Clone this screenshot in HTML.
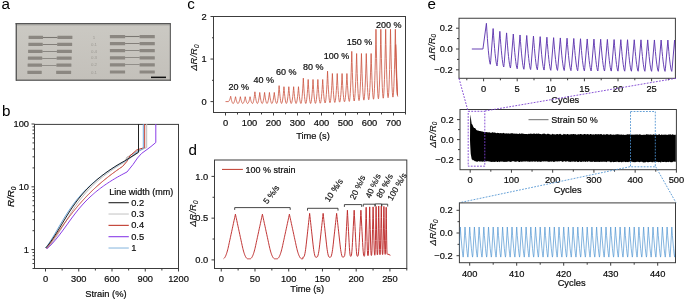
<!DOCTYPE html>
<html><head><meta charset="utf-8"><style>html,body{margin:0;padding:0;background:#fff;overflow:hidden}svg{display:block;will-change:transform;-webkit-font-smoothing:antialiased;font-family:"Liberation Sans",sans-serif}</style></head><body>
<svg width="685" height="300" viewBox="0 0 685 300" font-family="Liberation Sans, sans-serif">
<rect width="685" height="300" fill="#ffffff"/>
<text x="1.5" y="9" font-size="15.2" fill="#000">a</text>
<text x="1.9" y="116" font-size="15.2" fill="#000">b</text>
<text x="187.2" y="9.1" font-size="15.2" fill="#000">c</text>
<text x="188.6" y="155.3" font-size="15.2" fill="#000">d</text>
<text x="427.5" y="9.1" font-size="15.2" fill="#000">e</text>
<defs><linearGradient id="phg" x1="0" y1="0" x2="0" y2="1"><stop offset="0" stop-color="#cbc9c3"/><stop offset="1" stop-color="#c3c0ba"/></linearGradient></defs>
<rect x="16" y="23.5" width="154.5" height="57" fill="url(#phg)"/>
<rect x="15.6" y="23" width="155.2" height="1.4" fill="#565656"/>
<rect x="17" y="24.4" width="153" height="1.0" fill="#a3a29e"/>
<rect x="15.6" y="23" width="1.3" height="57.8" fill="#505050"/>
<rect x="169.8" y="23.5" width="1.1" height="57.3" fill="#5a5a5a"/>
<rect x="16" y="79.6" width="154.9" height="1.2" fill="#555555"/>
<rect x="28.6" y="35.8" width="14.4" height="3.2" rx="0.3" fill="#8b8781"/>
<rect x="57.4" y="35.8" width="15" height="3.2" rx="0.3" fill="#8b8781"/>
<rect x="109.9" y="35.1" width="15.2" height="3.2" rx="0.3" fill="#8b8781"/>
<rect x="139.6" y="35.1" width="15.2" height="3.2" rx="0.3" fill="#8b8781"/>
<line x1="43" y1="37.5" x2="57.4" y2="37.5" stroke="#7a7772" stroke-width="1.1"/>
<line x1="125.1" y1="36.5" x2="139.6" y2="36.5" stroke="#7a7772" stroke-width="1.1"/>
<rect x="28.35" y="42.8" width="14.4" height="3.2" rx="0.3" fill="#8b8781"/>
<rect x="57.15" y="42.8" width="15" height="3.2" rx="0.3" fill="#8b8781"/>
<rect x="109.9" y="42" width="15.2" height="3.2" rx="0.3" fill="#8b8781"/>
<rect x="139.6" y="42" width="15.2" height="3.2" rx="0.3" fill="#8b8781"/>
<line x1="42.75" y1="44.5" x2="57.15" y2="44.5" stroke="#7a7772" stroke-width="0.9"/>
<line x1="125.1" y1="43.5" x2="139.6" y2="43.5" stroke="#7a7772" stroke-width="0.9"/>
<rect x="28.1" y="49.8" width="14.4" height="3.2" rx="0.3" fill="#8b8781"/>
<rect x="56.9" y="49.8" width="15" height="3.2" rx="0.3" fill="#8b8781"/>
<rect x="109.9" y="49.1" width="15.2" height="3.2" rx="0.3" fill="#8b8781"/>
<rect x="139.6" y="49.1" width="15.2" height="3.2" rx="0.3" fill="#8b8781"/>
<line x1="42.5" y1="51.5" x2="56.9" y2="51.5" stroke="#7a7772" stroke-width="0.8"/>
<line x1="125.1" y1="50.5" x2="139.6" y2="50.5" stroke="#7a7772" stroke-width="0.8"/>
<rect x="27.85" y="56.6" width="14.4" height="3.2" rx="0.3" fill="#8b8781"/>
<rect x="56.65" y="56.6" width="15" height="3.2" rx="0.3" fill="#8b8781"/>
<rect x="109.9" y="56.3" width="15.2" height="3.2" rx="0.3" fill="#8b8781"/>
<rect x="139.6" y="56.3" width="15.2" height="3.2" rx="0.3" fill="#8b8781"/>
<line x1="42.25" y1="58.5" x2="56.65" y2="58.5" stroke="#7a7772" stroke-width="0.75"/>
<line x1="125.1" y1="57.5" x2="139.6" y2="57.5" stroke="#7a7772" stroke-width="0.75"/>
<rect x="27.6" y="63.6" width="14.4" height="3.2" rx="0.3" fill="#8b8781"/>
<rect x="56.4" y="63.6" width="15" height="3.2" rx="0.3" fill="#8b8781"/>
<rect x="109.9" y="63.3" width="15.2" height="3.2" rx="0.3" fill="#8b8781"/>
<rect x="139.6" y="63.3" width="15.2" height="3.2" rx="0.3" fill="#8b8781"/>
<line x1="42" y1="65.5" x2="56.4" y2="65.5" stroke="#7a7772" stroke-width="0.7"/>
<line x1="125.1" y1="64.5" x2="139.6" y2="64.5" stroke="#7a7772" stroke-width="0.7"/>
<rect x="27.35" y="70.7" width="14.4" height="3.2" rx="0.3" fill="#8b8781"/>
<rect x="56.15" y="70.7" width="15" height="3.2" rx="0.3" fill="#8b8781"/>
<rect x="109.9" y="70.4" width="15.2" height="3.2" rx="0.3" fill="#8b8781"/>
<rect x="139.6" y="70.4" width="15.2" height="3.2" rx="0.3" fill="#8b8781"/>
<text x="94" y="38.6" font-size="4.4" text-anchor="middle" fill="#9c9993">1</text>
<text x="94" y="45.6" font-size="4.4" text-anchor="middle" fill="#9c9993">0.1</text>
<text x="94" y="52.6" font-size="4.4" text-anchor="middle" fill="#9c9993">0.4</text>
<text x="94" y="59.4" font-size="4.4" text-anchor="middle" fill="#9c9993">0.3</text>
<text x="94" y="66.4" font-size="4.4" text-anchor="middle" fill="#9c9993">0.2</text>
<text x="94" y="73.5" font-size="4.4" text-anchor="middle" fill="#9c9993">0.1</text>
<rect x="151" y="76.6" width="15" height="1.5" fill="#111"/>
<rect x="34.5" y="124.4" width="144" height="144.1" fill="none" stroke="#3c3c3c" stroke-width="1"/>
<line x1="31.5" y1="249.6" x2="34.5" y2="249.6" stroke="#3c3c3c" stroke-width="1" />
<line x1="31.5" y1="186.8" x2="34.5" y2="186.8" stroke="#3c3c3c" stroke-width="1" />
<line x1="31.5" y1="124" x2="34.5" y2="124" stroke="#3c3c3c" stroke-width="1" />
<line x1="32.5" y1="268.5" x2="34.5" y2="268.5" stroke="#3c3c3c" stroke-width="1" />
<line x1="32.5" y1="263.53" x2="34.5" y2="263.53" stroke="#3c3c3c" stroke-width="1" />
<line x1="32.5" y1="259.33" x2="34.5" y2="259.33" stroke="#3c3c3c" stroke-width="1" />
<line x1="32.5" y1="255.69" x2="34.5" y2="255.69" stroke="#3c3c3c" stroke-width="1" />
<line x1="32.5" y1="252.47" x2="34.5" y2="252.47" stroke="#3c3c3c" stroke-width="1" />
<line x1="32.5" y1="230.7" x2="34.5" y2="230.7" stroke="#3c3c3c" stroke-width="1" />
<line x1="32.5" y1="219.64" x2="34.5" y2="219.64" stroke="#3c3c3c" stroke-width="1" />
<line x1="32.5" y1="211.79" x2="34.5" y2="211.79" stroke="#3c3c3c" stroke-width="1" />
<line x1="32.5" y1="205.7" x2="34.5" y2="205.7" stroke="#3c3c3c" stroke-width="1" />
<line x1="32.5" y1="200.73" x2="34.5" y2="200.73" stroke="#3c3c3c" stroke-width="1" />
<line x1="32.5" y1="196.53" x2="34.5" y2="196.53" stroke="#3c3c3c" stroke-width="1" />
<line x1="32.5" y1="192.89" x2="34.5" y2="192.89" stroke="#3c3c3c" stroke-width="1" />
<line x1="32.5" y1="189.67" x2="34.5" y2="189.67" stroke="#3c3c3c" stroke-width="1" />
<line x1="32.5" y1="167.9" x2="34.5" y2="167.9" stroke="#3c3c3c" stroke-width="1" />
<line x1="32.5" y1="156.84" x2="34.5" y2="156.84" stroke="#3c3c3c" stroke-width="1" />
<line x1="32.5" y1="148.99" x2="34.5" y2="148.99" stroke="#3c3c3c" stroke-width="1" />
<line x1="32.5" y1="142.9" x2="34.5" y2="142.9" stroke="#3c3c3c" stroke-width="1" />
<line x1="32.5" y1="137.93" x2="34.5" y2="137.93" stroke="#3c3c3c" stroke-width="1" />
<line x1="32.5" y1="133.73" x2="34.5" y2="133.73" stroke="#3c3c3c" stroke-width="1" />
<line x1="32.5" y1="130.09" x2="34.5" y2="130.09" stroke="#3c3c3c" stroke-width="1" />
<line x1="32.5" y1="126.87" x2="34.5" y2="126.87" stroke="#3c3c3c" stroke-width="1" />
<line x1="45.5" y1="268.5" x2="45.5" y2="271.5" stroke="#3c3c3c" stroke-width="1" />
<line x1="78.75" y1="268.5" x2="78.75" y2="271.5" stroke="#3c3c3c" stroke-width="1" />
<line x1="112.01" y1="268.5" x2="112.01" y2="271.5" stroke="#3c3c3c" stroke-width="1" />
<line x1="145.26" y1="268.5" x2="145.26" y2="271.5" stroke="#3c3c3c" stroke-width="1" />
<line x1="178.52" y1="268.5" x2="178.52" y2="271.5" stroke="#3c3c3c" stroke-width="1" />
<line x1="62.13" y1="268.5" x2="62.13" y2="270.5" stroke="#3c3c3c" stroke-width="1" />
<line x1="95.38" y1="268.5" x2="95.38" y2="270.5" stroke="#3c3c3c" stroke-width="1" />
<line x1="128.64" y1="268.5" x2="128.64" y2="270.5" stroke="#3c3c3c" stroke-width="1" />
<line x1="161.89" y1="268.5" x2="161.89" y2="270.5" stroke="#3c3c3c" stroke-width="1" />
<text x="29" y="252.7" font-size="9.3" text-anchor="end" fill="#0c0c0c" stroke="#0c0c0c" stroke-width="0.2" >1</text>
<text x="29" y="189.9" font-size="9.3" text-anchor="end" fill="#0c0c0c" stroke="#0c0c0c" stroke-width="0.2" >10</text>
<text x="29" y="127.1" font-size="9.3" text-anchor="end" fill="#0c0c0c" stroke="#0c0c0c" stroke-width="0.2" >100</text>
<text x="45.5" y="281.6" font-size="9.3" text-anchor="middle" fill="#0c0c0c" stroke="#0c0c0c" stroke-width="0.2" >0</text>
<text x="78.75" y="281.6" font-size="9.3" text-anchor="middle" fill="#0c0c0c" stroke="#0c0c0c" stroke-width="0.2" >300</text>
<text x="112.01" y="281.6" font-size="9.3" text-anchor="middle" fill="#0c0c0c" stroke="#0c0c0c" stroke-width="0.2" >600</text>
<text x="145.26" y="281.6" font-size="9.3" text-anchor="middle" fill="#0c0c0c" stroke="#0c0c0c" stroke-width="0.2" >900</text>
<text x="178.52" y="281.6" font-size="9.3" text-anchor="middle" fill="#0c0c0c" stroke="#0c0c0c" stroke-width="0.2" >1200</text>
<text x="105.9" y="296.6" font-size="9.3" text-anchor="middle" fill="#0c0c0c" stroke="#0c0c0c" stroke-width="0.2" >Strain (%)</text>
<text transform="translate(14.4,196.8) rotate(-90)" font-size="9.8" font-style="italic" text-anchor="middle" fill="#0c0c0c" stroke="#0c0c0c" stroke-width="0.2">R/R<tspan font-size="6.5" dy="1.6">0</tspan></text>
<path d="M47.85,248 L48.8,247 L49.63,246 L50.43,245 L51.19,244 L51.94,243 L52.67,242 L53.38,241 L54.08,240 L54.77,239 L55.44,238 L56.11,237 L56.76,236 L57.41,235 L58.05,234 L58.68,233 L59.31,232 L59.93,231 L60.54,230 L61.15,229 L61.76,228 L62.36,227 L62.96,226 L63.56,225 L64.16,224 L64.76,223 L65.36,222 L65.96,221 L66.56,220 L67.17,219 L67.77,218 L68.38,217 L69,216 L69.62,215 L70.24,214 L70.87,213 L71.5,212 L72.15,211 L72.8,210 L73.46,209 L74.12,208 L74.8,207 L75.49,206 L76.19,205 L76.9,204 L77.62,203 L78.35,202 L79.1,201 L79.86,200 L80.63,199 L81.42,198 L82.22,197 L83.05,196 L83.88,195 L84.74,194 L85.61,193 L86.5,192 L87.41,191 L88.34,190 L89.29,189 L90.26,188 L91.25,187 L92.27,186 L93.3,185 L94.36,184 L95.45,183 L96.56,182 L97.69,181 L98.85,180 L100.03,179 L101.24,178 L102.48,177 L103.75,176 L105.04,175 L106.37,174 L107.72,173 L109.1,172 L110.52,171 L111.96,170 L113.44,169 L114.95,168 L116.49,167 L118.07,166 L119.68,165 L121.38,164 L123.11,163 L124.88,162 L126.7,157.5 L138.3,150.5 L138.3,152.5 L127.5,160 L126.7,157.5 L136,152 L146.7,147.5 L146.7,124" fill="none" stroke="#bdbdbd" stroke-width="1" stroke-linejoin="round"/>
<path d="M46.57,248.5 L47.34,247.5 L48.13,246.5 L48.89,245.5 L49.62,244.5 L50.34,243.5 L51.05,242.5 L51.76,241.5 L52.46,240.5 L53.16,239.5 L53.85,238.5 L54.55,237.5 L55.24,236.5 L55.93,235.5 L56.62,234.5 L57.31,233.5 L58,232.5 L58.69,231.5 L59.39,230.5 L60.08,229.5 L60.78,228.5 L61.48,227.5 L62.19,226.5 L62.9,225.5 L63.61,224.5 L64.32,223.5 L65.04,222.5 L65.77,221.5 L66.5,220.5 L67.23,219.5 L67.97,218.5 L68.72,217.5 L69.48,216.5 L70.24,215.5 L71,214.5 L71.78,213.5 L72.56,212.5 L73.35,211.5 L74.15,210.5 L74.96,209.5 L75.78,208.5 L76.61,207.5 L77.45,206.5 L78.29,205.5 L79.15,204.5 L80.02,203.5 L80.9,202.5 L81.79,201.5 L82.69,200.5 L83.6,199.5 L84.53,198.5 L85.47,197.5 L86.42,196.5 L87.38,195.5 L88.36,194.5 L89.35,193.5 L90.36,192.5 L91.38,191.5 L92.42,190.5 L93.47,189.5 L94.53,188.5 L95.61,187.5 L96.71,186.5 L97.83,185.5 L98.96,184.5 L100.1,183.5 L101.27,182.5 L102.45,181.5 L103.65,180.5 L104.87,179.5 L106.1,178.5 L107.36,177.5 L108.63,176.5 L109.92,175.5 L111.23,174.5 L112.57,173.5 L113.92,172.5 L115.29,171.5 L116.68,170.5 L118.1,169.5 L119.54,168.5 L120.99,167.5 L122.47,166.5 L126.7,161.7 L130,155.8 L136.7,150 L144.7,147.5 L144.7,124" fill="none" stroke="#c0392b" stroke-width="1" stroke-linejoin="round"/>
<path d="M45.47,248 L46.33,247 L47.07,246 L47.78,245 L48.47,244 L49.14,243 L49.79,242 L50.44,241 L51.08,240 L51.7,239 L52.32,238 L52.93,237 L53.54,236 L54.14,235 L54.74,234 L55.33,233 L55.92,232 L56.5,231 L57.09,230 L57.67,229 L58.26,228 L58.84,227 L59.42,226 L60.01,225 L60.59,224 L61.18,223 L61.77,222 L62.37,221 L62.97,220 L63.57,219 L64.18,218 L64.79,217 L65.42,216 L66.04,215 L66.68,214 L67.32,213 L67.97,212 L68.63,211 L69.3,210 L69.98,209 L70.67,208 L71.37,207 L72.09,206 L72.81,205 L73.55,204 L74.3,203 L75.07,202 L75.84,201 L76.64,200 L77.45,199 L78.28,198 L79.12,197 L79.98,196 L80.86,195 L81.75,194 L82.67,193 L83.6,192 L84.55,191 L85.53,190 L86.52,189 L87.54,188 L88.57,187 L89.63,186 L90.72,185 L91.82,184 L92.95,183 L94.11,182 L95.29,181 L96.49,180 L97.73,179 L98.98,178 L100.27,177 L101.58,176 L102.92,175 L104.29,174 L105.69,173 L107.12,172 L108.58,171 L110.07,170 L111.59,169 L113.15,168 L114.73,167 L116.35,166 L118,165 L119.74,164 L121.51,163 L123.32,162 L125.16,161 L127.04,160 L136,153 L143.3,148.5 L143.3,124" fill="none" stroke="#6fa8da" stroke-width="1" stroke-linejoin="round"/>
<path d="M46.75,249 L47.57,248 L48.79,247 L49.84,246 L50.83,245 L51.79,244 L52.71,243 L53.61,242 L54.48,241 L55.34,240 L56.18,239 L57,238 L57.8,237 L58.59,236 L59.38,235 L60.14,234 L60.9,233 L61.65,232 L62.4,231 L63.13,230 L63.86,229 L64.59,228 L65.31,227 L66.03,226 L66.75,225 L67.47,224 L68.19,223 L68.9,222 L69.63,221 L70.35,220 L71.08,219 L71.81,218 L72.55,217 L73.3,216 L74.05,215 L74.82,214 L75.59,213 L76.37,212 L77.17,211 L77.98,210 L78.8,209 L79.63,208 L80.48,207 L81.35,206 L82.23,205 L83.14,204 L84.06,203 L85,202 L85.96,201 L86.94,200 L87.95,199 L88.98,198 L90.03,197 L91.11,196 L92.22,195 L93.35,194 L94.51,193 L95.7,192 L96.92,191 L98.17,190 L99.46,189 L100.77,188 L102.12,187 L103.5,186 L104.92,185 L106.37,184 L107.86,183 L109.39,182 L110.96,181 L112.57,180 L114.22,179 L115.91,178 L117.64,177 L119.41,176 L121.23,175 L123.1,174 L125.01,173 L126.97,172 L133,164.5 L137.5,158 L141.5,153.5 L147,149.5 L151,146.5 L155.8,142.5 L155.8,124" fill="none" stroke="#8a3ee8" stroke-width="1" stroke-linejoin="round"/>
<path d="M45.65,248 L46.6,247 L47.43,246 L48.23,245 L48.99,244 L49.74,243 L50.47,242 L51.18,241 L51.88,240 L52.57,239 L53.24,238 L53.91,237 L54.56,236 L55.21,235 L55.85,234 L56.48,233 L57.11,232 L57.73,231 L58.34,230 L58.95,229 L59.56,228 L60.16,227 L60.76,226 L61.36,225 L61.96,224 L62.56,223 L63.16,222 L63.76,221 L64.36,220 L64.97,219 L65.57,218 L66.18,217 L66.8,216 L67.42,215 L68.04,214 L68.67,213 L69.3,212 L69.95,211 L70.6,210 L71.26,209 L71.92,208 L72.6,207 L73.29,206 L73.99,205 L74.7,204 L75.42,203 L76.15,202 L76.9,201 L77.66,200 L78.43,199 L79.22,198 L80.02,197 L80.85,196 L81.68,195 L82.54,194 L83.41,193 L84.3,192 L85.21,191 L86.14,190 L87.09,189 L88.06,188 L89.05,187 L90.07,186 L91.1,185 L92.16,184 L93.25,183 L94.36,182 L95.49,181 L96.65,180 L97.83,179 L99.04,178 L100.28,177 L101.55,176 L102.84,175 L104.17,174 L105.52,173 L106.9,172 L108.32,171 L109.76,170 L111.24,169 L112.75,168 L114.29,167 L115.87,166 L117.48,165 L119.18,164 L120.91,163 L122.68,162 L124.49,161 L138.5,152.3 L138.5,124" fill="none" stroke="#222222" stroke-width="1" stroke-linejoin="round"/>
<text x="109.3" y="194.6" font-size="9.0" text-anchor="start" fill="#0c0c0c" stroke="#0c0c0c" stroke-width="0.2" >Line width (mm)</text>
<line x1="108.5" y1="202.7" x2="128.8" y2="202.7" stroke="#222222" stroke-width="1.1" />
<text x="131.2" y="205.8" font-size="9.3" text-anchor="start" fill="#0c0c0c" stroke="#0c0c0c" stroke-width="0.2" >0.2</text>
<line x1="108.5" y1="214.03" x2="128.8" y2="214.03" stroke="#c8c8c8" stroke-width="1.1" />
<text x="131.2" y="217.13" font-size="9.3" text-anchor="start" fill="#0c0c0c" stroke="#0c0c0c" stroke-width="0.2" >0.3</text>
<line x1="108.5" y1="225.36" x2="128.8" y2="225.36" stroke="#c0392b" stroke-width="1.1" />
<text x="131.2" y="228.46" font-size="9.3" text-anchor="start" fill="#0c0c0c" stroke="#0c0c0c" stroke-width="0.2" >0.4</text>
<line x1="108.5" y1="236.69" x2="128.8" y2="236.69" stroke="#8a3ee8" stroke-width="1.1" />
<text x="131.2" y="239.79" font-size="9.3" text-anchor="start" fill="#0c0c0c" stroke="#0c0c0c" stroke-width="0.2" >0.5</text>
<line x1="108.5" y1="248.02" x2="128.8" y2="248.02" stroke="#8fbbe0" stroke-width="1.1" />
<text x="131.2" y="251.12" font-size="9.3" text-anchor="start" fill="#0c0c0c" stroke="#0c0c0c" stroke-width="0.2" >1</text>
<rect x="213.5" y="16.5" width="192" height="96" fill="none" stroke="#3c3c3c" stroke-width="1"/>
<line x1="210.5" y1="101.6" x2="213.5" y2="101.6" stroke="#3c3c3c" stroke-width="1" />
<line x1="210.5" y1="59.05" x2="213.5" y2="59.05" stroke="#3c3c3c" stroke-width="1" />
<line x1="210.5" y1="16.5" x2="213.5" y2="16.5" stroke="#3c3c3c" stroke-width="1" />
<line x1="212" y1="80.32" x2="213.5" y2="80.32" stroke="#3c3c3c" stroke-width="1" />
<line x1="212" y1="37.77" x2="213.5" y2="37.77" stroke="#3c3c3c" stroke-width="1" />
<line x1="225.5" y1="112.5" x2="225.5" y2="115.5" stroke="#3c3c3c" stroke-width="1" />
<line x1="249.5" y1="112.5" x2="249.5" y2="115.5" stroke="#3c3c3c" stroke-width="1" />
<line x1="273.5" y1="112.5" x2="273.5" y2="115.5" stroke="#3c3c3c" stroke-width="1" />
<line x1="297.5" y1="112.5" x2="297.5" y2="115.5" stroke="#3c3c3c" stroke-width="1" />
<line x1="321.5" y1="112.5" x2="321.5" y2="115.5" stroke="#3c3c3c" stroke-width="1" />
<line x1="345.5" y1="112.5" x2="345.5" y2="115.5" stroke="#3c3c3c" stroke-width="1" />
<line x1="369.5" y1="112.5" x2="369.5" y2="115.5" stroke="#3c3c3c" stroke-width="1" />
<line x1="393.5" y1="112.5" x2="393.5" y2="115.5" stroke="#3c3c3c" stroke-width="1" />
<line x1="237.5" y1="112.5" x2="237.5" y2="114.5" stroke="#3c3c3c" stroke-width="1" />
<line x1="261.5" y1="112.5" x2="261.5" y2="114.5" stroke="#3c3c3c" stroke-width="1" />
<line x1="285.5" y1="112.5" x2="285.5" y2="114.5" stroke="#3c3c3c" stroke-width="1" />
<line x1="309.5" y1="112.5" x2="309.5" y2="114.5" stroke="#3c3c3c" stroke-width="1" />
<line x1="333.5" y1="112.5" x2="333.5" y2="114.5" stroke="#3c3c3c" stroke-width="1" />
<line x1="357.5" y1="112.5" x2="357.5" y2="114.5" stroke="#3c3c3c" stroke-width="1" />
<line x1="381.5" y1="112.5" x2="381.5" y2="114.5" stroke="#3c3c3c" stroke-width="1" />
<line x1="405.5" y1="112.5" x2="405.5" y2="114.5" stroke="#3c3c3c" stroke-width="1" />
<text x="206.6" y="104.7" font-size="9.3" text-anchor="end" fill="#0c0c0c" stroke="#0c0c0c" stroke-width="0.2" >0</text>
<text x="206.6" y="62.15" font-size="9.3" text-anchor="end" fill="#0c0c0c" stroke="#0c0c0c" stroke-width="0.2" >1</text>
<text x="206.6" y="19.6" font-size="9.3" text-anchor="end" fill="#0c0c0c" stroke="#0c0c0c" stroke-width="0.2" >2</text>
<text x="225.5" y="125.6" font-size="9.3" text-anchor="middle" fill="#0c0c0c" stroke="#0c0c0c" stroke-width="0.2" >0</text>
<text x="249.5" y="125.6" font-size="9.3" text-anchor="middle" fill="#0c0c0c" stroke="#0c0c0c" stroke-width="0.2" >100</text>
<text x="273.5" y="125.6" font-size="9.3" text-anchor="middle" fill="#0c0c0c" stroke="#0c0c0c" stroke-width="0.2" >200</text>
<text x="297.5" y="125.6" font-size="9.3" text-anchor="middle" fill="#0c0c0c" stroke="#0c0c0c" stroke-width="0.2" >300</text>
<text x="321.5" y="125.6" font-size="9.3" text-anchor="middle" fill="#0c0c0c" stroke="#0c0c0c" stroke-width="0.2" >400</text>
<text x="345.5" y="125.6" font-size="9.3" text-anchor="middle" fill="#0c0c0c" stroke="#0c0c0c" stroke-width="0.2" >500</text>
<text x="369.5" y="125.6" font-size="9.3" text-anchor="middle" fill="#0c0c0c" stroke="#0c0c0c" stroke-width="0.2" >600</text>
<text x="393.5" y="125.6" font-size="9.3" text-anchor="middle" fill="#0c0c0c" stroke="#0c0c0c" stroke-width="0.2" >700</text>
<text x="313" y="139.2" font-size="9.3" text-anchor="middle" fill="#0c0c0c" stroke="#0c0c0c" stroke-width="0.2" >Time (s)</text>
<text transform="translate(197,57.6) rotate(-90)" font-size="9.5" font-style="italic" text-anchor="middle" fill="#0c0c0c" stroke="#0c0c0c" stroke-width="0.1">ΔR/R<tspan font-size="6.46" dy="1.6">0</tspan></text>
<path d="M225.5,101.6 L228.26,101.6 L228.57,101.5 L228.87,101.22 L229.17,100.77 L229.47,100.17 L229.78,99.42 L230.08,98.52 L230.38,97.47 L230.68,96.28 L230.99,97.9 L231.29,99.33 L231.59,100.55 L231.89,101.58 L232.2,102.39 L232.5,103 L232.8,103.38 L233.11,103.51 L233.41,103.38 L233.71,103.03 L234.01,102.46 L234.32,101.69 L234.62,100.73 L234.92,99.57 L235.22,98.23 L235.53,96.71 L235.83,98.23 L236.13,99.57 L236.44,100.73 L236.74,101.69 L237.04,102.46 L237.34,103.03 L237.65,103.38 L237.95,103.51 L238.25,103.38 L238.55,103.03 L238.86,102.46 L239.16,101.69 L239.46,100.73 L239.76,99.57 L240.07,98.23 L240.37,96.71 L240.67,98.23 L240.98,99.57 L241.28,100.73 L241.58,101.69 L241.88,102.46 L242.19,103.03 L242.49,103.38 L242.79,103.51 L243.09,103.38 L243.4,103.03 L243.7,102.46 L244,101.69 L244.31,100.73 L244.61,99.57 L244.91,98.23 L245.21,96.71 L245.52,98.23 L245.82,99.57 L246.12,100.73 L246.42,101.69 L246.73,102.46 L247.03,103.03 L247.33,103.38 L247.64,103.51 L247.94,103.38 L248.24,103.03 L248.54,102.46 L248.85,101.69 L249.15,100.73 L249.45,99.57 L249.75,98.23 L250.06,96.71 L250.36,98.23 L250.66,99.57 L250.96,100.73 L251.27,101.69 L251.57,102.46 L251.87,103.03 L252.18,103.38 L252.48,103.51 L252.78,103.29 L253.08,102.67 L253.39,101.7 L253.69,100.38 L253.99,98.72 L254.29,96.74 L254.6,94.44 L254.9,91.81 L255.2,94.44 L255.51,96.74 L255.81,98.72 L256.11,100.38 L256.41,101.7 L256.72,102.67 L257.02,103.29 L257.32,103.51 L257.62,103.3 L257.93,102.72 L258.23,101.8 L258.53,100.55 L258.84,98.99 L259.14,97.11 L259.44,94.93 L259.74,92.45 L260.05,94.93 L260.35,97.11 L260.65,98.99 L260.95,100.55 L261.26,101.8 L261.56,102.72 L261.86,103.3 L262.16,103.51 L262.47,103.3 L262.77,102.72 L263.07,101.8 L263.38,100.55 L263.68,98.99 L263.98,97.11 L264.28,94.93 L264.59,92.45 L264.89,94.93 L265.19,97.11 L265.49,98.99 L265.8,100.55 L266.1,101.8 L266.4,102.72 L266.71,103.3 L267.01,103.51 L267.31,103.3 L267.61,102.72 L267.92,101.8 L268.22,100.55 L268.52,98.99 L268.82,97.11 L269.13,94.93 L269.43,92.45 L269.73,94.93 L270.03,97.11 L270.34,98.99 L270.64,100.55 L270.94,101.8 L271.25,102.72 L271.55,103.3 L271.85,103.51 L272.15,103.3 L272.46,102.72 L272.76,101.8 L273.06,100.55 L273.36,98.99 L273.67,97.11 L273.97,94.93 L274.27,92.45 L274.58,94.93 L274.88,97.11 L275.18,98.99 L275.48,100.55 L275.79,101.8 L276.09,102.72 L276.39,103.3 L276.69,103.51 L277,103.17 L277.3,102.23 L277.6,100.74 L277.91,98.73 L278.21,96.2 L278.51,93.17 L278.81,89.65 L279.12,85.64 L279.42,89.65 L279.72,93.17 L280.02,96.2 L280.33,98.73 L280.63,100.74 L280.93,102.23 L281.23,103.17 L281.54,103.51 L281.84,103.19 L282.14,102.31 L282.45,100.91 L282.75,99.01 L283.05,96.63 L283.35,93.78 L283.66,90.47 L283.96,86.71 L284.26,90.47 L284.56,93.78 L284.87,96.63 L285.17,99.01 L285.47,100.91 L285.78,102.31 L286.08,103.19 L286.38,103.51 L286.68,103.19 L286.99,102.31 L287.29,100.91 L287.59,99.01 L287.89,96.63 L288.2,93.78 L288.5,90.47 L288.8,86.71 L289.11,90.47 L289.41,93.78 L289.71,96.63 L290.01,99.01 L290.32,100.91 L290.62,102.31 L290.92,103.19 L291.22,103.51 L291.53,103.19 L291.83,102.31 L292.13,100.91 L292.43,99.01 L292.74,96.63 L293.04,93.78 L293.34,90.47 L293.65,86.71 L293.95,90.47 L294.25,93.78 L294.55,96.63 L294.86,99.01 L295.16,100.91 L295.46,102.31 L295.76,103.19 L296.07,103.51 L296.37,103.19 L296.67,102.31 L296.98,100.91 L297.28,99.01 L297.58,96.63 L297.88,93.78 L298.19,90.47 L298.49,86.71 L298.79,90.47 L299.09,93.78 L299.4,96.63 L299.7,99.01 L300,100.91 L300.31,102.31 L300.61,103.19 L300.91,103.51 L301.21,103.03 L301.52,101.7 L301.82,99.59 L302.12,96.73 L302.42,93.15 L302.73,88.86 L303.03,83.87 L303.33,78.2 L303.63,83.87 L303.94,88.86 L304.24,93.15 L304.54,96.73 L304.85,99.59 L305.15,101.7 L305.45,103.03 L305.75,103.51 L306.06,103.05 L306.36,101.79 L306.66,99.79 L306.96,97.07 L307.27,93.67 L307.57,89.6 L307.87,84.86 L308.18,79.47 L308.48,84.86 L308.78,89.6 L309.08,93.67 L309.39,97.07 L309.69,99.79 L309.99,101.79 L310.29,103.05 L310.6,103.51 L310.9,103.04 L311.2,101.77 L311.5,99.77 L311.81,97.05 L312.11,93.65 L312.41,89.58 L312.72,84.85 L313.02,79.47 L313.32,84.85 L313.62,89.57 L313.93,93.63 L314.23,97.01 L314.53,99.71 L314.83,101.69 L315.14,102.94 L315.44,103.39 L315.74,102.92 L316.05,101.66 L316.35,99.66 L316.65,96.96 L316.95,93.57 L317.26,89.52 L317.56,84.82 L317.86,79.47 L318.16,84.81 L318.47,89.5 L318.77,93.53 L319.07,96.89 L319.38,99.57 L319.68,101.54 L319.98,102.77 L320.28,103.22 L320.59,102.75 L320.89,101.49 L321.19,99.5 L321.49,96.82 L321.8,93.46 L322.1,89.44 L322.4,84.77 L322.7,79.47 L323.01,84.77 L323.31,89.42 L323.61,93.41 L323.92,96.74 L324.22,99.39 L324.52,101.34 L324.82,102.56 L325.13,103 L325.43,102.37 L325.73,100.68 L326.03,98.02 L326.34,94.43 L326.64,89.92 L326.94,84.54 L327.25,78.28 L327.55,71.18 L327.85,78.28 L328.15,84.51 L328.46,89.87 L328.76,94.33 L329.06,97.89 L329.36,100.5 L329.67,102.15 L329.97,102.74 L330.27,102.16 L330.57,100.61 L330.88,98.16 L331.18,94.86 L331.48,90.72 L331.79,85.78 L332.09,80.04 L332.39,73.52 L332.69,80.03 L333,85.75 L333.3,90.66 L333.6,94.75 L333.9,98.01 L334.21,100.4 L334.51,101.91 L334.81,102.45 L335.12,101.87 L335.42,100.33 L335.72,97.91 L336.02,94.64 L336.33,90.54 L336.63,85.65 L336.93,79.97 L337.23,73.52 L337.54,79.96 L337.84,85.62 L338.14,90.47 L338.45,94.52 L338.75,97.74 L339.05,100.11 L339.35,101.6 L339.66,102.13 L339.96,101.55 L340.26,100.03 L340.56,97.63 L340.87,94.4 L341.17,90.35 L341.47,85.51 L341.77,79.89 L342.08,73.52 L342.38,79.88 L342.68,85.47 L342.99,90.27 L343.29,94.27 L343.59,97.45 L343.89,99.79 L344.2,101.26 L344.5,101.78 L344.8,101.21 L345.1,99.71 L345.41,97.34 L345.71,94.14 L346.01,90.14 L346.32,85.36 L346.62,79.81 L346.92,73.52 L347.22,79.8 L347.53,85.32 L347.83,90.06 L348.13,94 L348.43,97.14 L348.74,99.45 L349.04,100.89 L349.34,101.4 L349.65,100.42 L349.95,97.77 L350.25,93.59 L350.55,87.93 L350.86,80.86 L351.16,72.39 L351.46,62.56 L351.76,51.39 L352.07,62.55 L352.37,72.35 L352.67,80.77 L352.97,87.79 L353.28,93.38 L353.58,97.49 L353.88,100.08 L354.19,101.01 L354.49,100.07 L354.79,97.55 L355.09,93.58 L355.4,88.21 L355.7,81.49 L356,73.45 L356.3,64.12 L356.61,53.52 L356.91,64.11 L357.21,73.41 L357.52,81.4 L357.82,88.06 L358.12,93.36 L358.42,97.26 L358.73,99.71 L359.03,100.59 L359.33,99.66 L359.63,97.16 L359.94,93.22 L360.24,87.9 L360.54,81.24 L360.85,73.27 L361.15,64.02 L361.45,53.52 L361.75,64.01 L362.06,73.23 L362.36,81.14 L362.66,87.74 L362.96,92.99 L363.27,96.86 L363.57,99.28 L363.87,100.15 L364.17,99.23 L364.48,96.75 L364.78,92.85 L365.08,87.57 L365.39,80.98 L365.69,73.08 L365.99,63.92 L366.29,53.52 L366.6,63.91 L366.9,73.03 L367.2,80.87 L367.5,87.41 L367.81,92.6 L368.11,96.43 L368.41,98.83 L368.72,99.69 L369.02,98.77 L369.32,96.32 L369.62,92.45 L369.93,87.23 L370.23,80.7 L370.53,72.89 L370.83,63.82 L371.14,53.52 L371.44,63.81 L371.74,72.84 L372.04,80.59 L372.35,87.06 L372.65,92.2 L372.95,95.99 L373.26,98.36 L373.56,99.21 L373.86,97.84 L374.16,94.13 L374.47,88.29 L374.77,80.38 L375.07,70.48 L375.37,58.64 L375.68,44.89 L375.98,29.27 L376.28,44.88 L376.59,58.59 L376.89,70.37 L377.19,80.2 L377.49,88.02 L377.8,93.79 L378.1,97.41 L378.4,98.72 L378.7,97.35 L379.01,93.67 L379.31,87.86 L379.61,80.01 L379.92,70.19 L380.22,58.43 L380.52,44.78 L380.82,29.27 L381.13,44.76 L381.43,58.38 L381.73,70.07 L382.03,79.83 L382.34,87.59 L382.64,93.31 L382.94,96.91 L383.24,98.2 L383.55,96.84 L383.85,93.19 L384.15,87.43 L384.46,79.63 L384.76,69.88 L385.06,58.21 L385.36,44.66 L385.67,29.27 L385.97,44.65 L386.27,58.15 L386.57,69.76 L386.88,79.44 L387.18,87.14 L387.48,92.82 L387.79,96.39 L388.09,97.67 L388.39,96.32 L388.69,92.7 L389,86.97 L389.3,79.24 L389.6,69.56 L389.9,57.98 L390.21,44.54 L390.51,29.27 L390.81,44.52 L391.12,57.93 L391.42,69.44 L391.72,79.04 L392.02,86.68 L392.33,92.31 L392.63,95.85 L392.93,97.12 L393.23,95.78 L393.54,92.18 L393.84,86.51 L394.14,78.84 L394.44,69.24 L394.75,57.75 L395.05,44.42 L395.35,29.27 L395.66,44.4 L395.96,57.69 L396.26,69.11 L396.56,78.63 L396.87,86.21 L397.17,91.79 L397.47,95.3 L395.66,44.4 L395.96,57.69 L396.26,69.11 L396.56,78.63 L396.87,86.21 L397.17,91.79 L397.47,95.3 L397.77,96.56" fill="none" stroke="#cb5541" stroke-width="0.82" stroke-linejoin="round"/>
<text x="228.4" y="90" font-size="9" text-anchor="start" fill="#0c0c0c" stroke="#0c0c0c" stroke-width="0.2" >20 %</text>
<text x="253.4" y="82.8" font-size="9" text-anchor="start" fill="#0c0c0c" stroke="#0c0c0c" stroke-width="0.2" >40 %</text>
<text x="275.9" y="75.3" font-size="9" text-anchor="start" fill="#0c0c0c" stroke="#0c0c0c" stroke-width="0.2" >60 %</text>
<text x="302.9" y="69.7" font-size="9" text-anchor="start" fill="#0c0c0c" stroke="#0c0c0c" stroke-width="0.2" >80 %</text>
<text x="323.7" y="59" font-size="9" text-anchor="start" fill="#0c0c0c" stroke="#0c0c0c" stroke-width="0.2" >100 %</text>
<text x="346.7" y="45" font-size="9" text-anchor="start" fill="#0c0c0c" stroke="#0c0c0c" stroke-width="0.2" >150 %</text>
<text x="376" y="28.3" font-size="9" text-anchor="start" fill="#0c0c0c" stroke="#0c0c0c" stroke-width="0.2" >200 %</text>
<rect x="214.5" y="160" width="192.3" height="108.5" fill="none" stroke="#3c3c3c" stroke-width="1"/>
<line x1="211.5" y1="259.9" x2="214.5" y2="259.9" stroke="#3c3c3c" stroke-width="1" />
<line x1="211.5" y1="218.15" x2="214.5" y2="218.15" stroke="#3c3c3c" stroke-width="1" />
<line x1="211.5" y1="176.4" x2="214.5" y2="176.4" stroke="#3c3c3c" stroke-width="1" />
<line x1="212.5" y1="239.02" x2="214.5" y2="239.02" stroke="#3c3c3c" stroke-width="1" />
<line x1="212.5" y1="197.27" x2="214.5" y2="197.27" stroke="#3c3c3c" stroke-width="1" />
<line x1="221.25" y1="268.5" x2="221.25" y2="271.5" stroke="#3c3c3c" stroke-width="1" />
<line x1="254.99" y1="268.5" x2="254.99" y2="271.5" stroke="#3c3c3c" stroke-width="1" />
<line x1="288.72" y1="268.5" x2="288.72" y2="271.5" stroke="#3c3c3c" stroke-width="1" />
<line x1="322.45" y1="268.5" x2="322.45" y2="271.5" stroke="#3c3c3c" stroke-width="1" />
<line x1="356.19" y1="268.5" x2="356.19" y2="271.5" stroke="#3c3c3c" stroke-width="1" />
<line x1="389.92" y1="268.5" x2="389.92" y2="271.5" stroke="#3c3c3c" stroke-width="1" />
<line x1="238.12" y1="268.5" x2="238.12" y2="270.5" stroke="#3c3c3c" stroke-width="1" />
<line x1="271.85" y1="268.5" x2="271.85" y2="270.5" stroke="#3c3c3c" stroke-width="1" />
<line x1="305.59" y1="268.5" x2="305.59" y2="270.5" stroke="#3c3c3c" stroke-width="1" />
<line x1="339.32" y1="268.5" x2="339.32" y2="270.5" stroke="#3c3c3c" stroke-width="1" />
<line x1="373.06" y1="268.5" x2="373.06" y2="270.5" stroke="#3c3c3c" stroke-width="1" />
<line x1="406.79" y1="268.5" x2="406.79" y2="270.5" stroke="#3c3c3c" stroke-width="1" />
<text x="208.3" y="263" font-size="9.3" text-anchor="end" fill="#0c0c0c" stroke="#0c0c0c" stroke-width="0.2" >0.0</text>
<text x="208.3" y="221.25" font-size="9.3" text-anchor="end" fill="#0c0c0c" stroke="#0c0c0c" stroke-width="0.2" >0.5</text>
<text x="208.3" y="179.5" font-size="9.3" text-anchor="end" fill="#0c0c0c" stroke="#0c0c0c" stroke-width="0.2" >1.0</text>
<text x="221.25" y="281.6" font-size="9.3" text-anchor="middle" fill="#0c0c0c" stroke="#0c0c0c" stroke-width="0.2" >0</text>
<text x="254.99" y="281.6" font-size="9.3" text-anchor="middle" fill="#0c0c0c" stroke="#0c0c0c" stroke-width="0.2" >50</text>
<text x="288.72" y="281.6" font-size="9.3" text-anchor="middle" fill="#0c0c0c" stroke="#0c0c0c" stroke-width="0.2" >100</text>
<text x="322.45" y="281.6" font-size="9.3" text-anchor="middle" fill="#0c0c0c" stroke="#0c0c0c" stroke-width="0.2" >150</text>
<text x="356.19" y="281.6" font-size="9.3" text-anchor="middle" fill="#0c0c0c" stroke="#0c0c0c" stroke-width="0.2" >200</text>
<text x="389.92" y="281.6" font-size="9.3" text-anchor="middle" fill="#0c0c0c" stroke="#0c0c0c" stroke-width="0.2" >250</text>
<text x="307.2" y="291.6" font-size="9.3" text-anchor="middle" fill="#0c0c0c" stroke="#0c0c0c" stroke-width="0.2" >Time (s)</text>
<text transform="translate(195.9,213.6) rotate(-90)" font-size="9.5" font-style="italic" text-anchor="middle" fill="#0c0c0c" stroke="#0c0c0c" stroke-width="0.1">ΔR/R<tspan font-size="6.46" dy="1.6">0</tspan></text>
<line x1="222" y1="169.4" x2="242.9" y2="169.4" stroke="#c0392b" stroke-width="1" />
<text x="245.6" y="172.8" font-size="9" text-anchor="start" fill="#0c0c0c" stroke="#0c0c0c" stroke-width="0.2" >100 % strain</text>
<path d="M234.7,209.9 V207.6 H290.2 V209.9" fill="none" stroke="#333" stroke-width="0.9"/>
<path d="M307.5,210.6 V208.3 H338 V210.6" fill="none" stroke="#333" stroke-width="0.9"/>
<path d="M344.4,206.9 V204.6 H361.7 V206.9" fill="none" stroke="#333" stroke-width="0.9"/>
<path d="M363.3,206.5 V204.2 H375 V206.5" fill="none" stroke="#333" stroke-width="0.9"/>
<path d="M375.2,206.2 V203.9 H381.6 V206.2" fill="none" stroke="#333" stroke-width="0.9"/>
<path d="M381.8,206.5 V204.2 H387.7 V206.5" fill="none" stroke="#333" stroke-width="0.9"/>
<text transform="translate(267.25,204.6) rotate(-53) scale(0.1)" font-size="84" fill="#0c0c0c" stroke="#0c0c0c" stroke-width="1.5">5 %/s</text>
<text transform="translate(329,202.5) rotate(-56) scale(0.1)" font-size="84" fill="#0c0c0c" stroke="#0c0c0c" stroke-width="1.5">10 %/s</text>
<text transform="translate(354.8,200.25) rotate(-65) scale(0.1)" font-size="84" fill="#0c0c0c" stroke="#0c0c0c" stroke-width="1.5">20 %/s</text>
<text transform="translate(370.4,198.85) rotate(-66) scale(0.1)" font-size="84" fill="#0c0c0c" stroke="#0c0c0c" stroke-width="1.5">40 %/s</text>
<text transform="translate(381.1,198.5) rotate(-62) scale(0.1)" font-size="84" fill="#0c0c0c" stroke="#0c0c0c" stroke-width="1.5">80 %/s</text>
<text transform="translate(391.9,201.3) rotate(-60) scale(0.1)" font-size="84" fill="#0c0c0c" stroke="#0c0c0c" stroke-width="1.5">100 %/s</text>
<path d="M223.61,258.66 L223.95,258.44 L224.29,258.13 L224.62,257.73 L224.96,257.23 L225.3,256.63 L225.64,255.94 L225.97,255.16 L226.31,254.28 L226.65,253.31 L226.98,252.24 L227.32,251.08 L227.66,249.82 L228,248.47 L228.33,247.03 L228.67,245.49 L229.01,243.93 L229.35,242.37 L229.68,240.8 L230.02,239.24 L230.36,237.68 L230.7,236.11 L231.03,234.55 L231.37,232.99 L231.71,231.42 L232.05,229.86 L232.38,228.3 L232.72,226.73 L233.06,225.17 L233.39,223.61 L233.73,222.04 L234.07,220.48 L234.41,218.92 L234.74,217.35 L235.08,215.79 L235.42,214.23 L235.76,215.79 L236.09,217.35 L236.43,218.92 L236.77,220.48 L237.11,222.04 L237.44,223.61 L237.78,225.17 L238.12,226.73 L238.45,228.3 L238.79,229.86 L239.13,231.42 L239.47,232.99 L239.8,234.55 L240.14,236.11 L240.48,237.68 L240.82,239.24 L241.15,240.8 L241.49,242.37 L241.83,243.93 L242.17,245.49 L242.5,247.03 L242.84,248.47 L243.18,249.82 L243.52,251.08 L243.85,252.24 L244.19,253.31 L244.53,254.28 L244.86,255.16 L245.2,255.94 L245.54,256.63 L245.88,257.23 L246.21,257.73 L246.55,258.13 L246.89,258.44 L247.23,258.66 L247.56,258.78 L247.9,258.81 L248.24,258.81 L248.58,258.81 L248.91,258.81 L249.25,258.81 L249.59,258.81 L249.92,258.81 L250.26,258.78 L250.6,258.66 L250.94,258.44 L251.27,258.13 L251.61,257.73 L251.95,257.23 L252.29,256.63 L252.62,255.94 L252.96,255.16 L253.3,254.28 L253.64,253.31 L253.97,252.24 L254.31,251.08 L254.65,249.82 L254.99,248.47 L255.32,247.03 L255.66,245.49 L256,243.93 L256.33,242.37 L256.67,240.8 L257.01,239.24 L257.35,237.68 L257.68,236.11 L258.02,234.55 L258.36,232.99 L258.7,231.42 L259.03,229.86 L259.37,228.3 L259.71,226.73 L260.05,225.17 L260.38,223.61 L260.72,222.04 L261.06,220.48 L261.39,218.92 L261.73,217.35 L262.07,215.79 L262.41,214.23 L262.74,215.79 L263.08,217.35 L263.42,218.92 L263.76,220.48 L264.09,222.04 L264.43,223.61 L264.77,225.17 L265.11,226.73 L265.44,228.3 L265.78,229.86 L266.12,231.42 L266.45,232.99 L266.79,234.55 L267.13,236.11 L267.47,237.68 L267.8,239.24 L268.14,240.8 L268.48,242.37 L268.82,243.93 L269.15,245.49 L269.49,247.03 L269.83,248.47 L270.17,249.82 L270.5,251.08 L270.84,252.24 L271.18,253.31 L271.52,254.28 L271.85,255.16 L272.19,255.94 L272.53,256.63 L272.86,257.23 L273.2,257.73 L273.54,258.13 L273.88,258.44 L274.21,258.66 L274.55,258.78 L274.89,258.81 L275.23,258.81 L275.56,258.81 L275.9,258.81 L276.24,258.81 L276.58,258.81 L276.91,258.81 L277.25,258.78 L277.59,258.66 L277.92,258.44 L278.26,258.13 L278.6,257.73 L278.94,257.23 L279.27,256.63 L279.61,255.94 L279.95,255.16 L280.29,254.28 L280.62,253.31 L280.96,252.24 L281.3,251.08 L281.64,249.82 L281.97,248.47 L282.31,247.03 L282.65,245.49 L282.99,243.93 L283.32,242.37 L283.66,240.8 L284,239.24 L284.33,237.68 L284.67,236.11 L285.01,234.55 L285.35,232.99 L285.68,231.42 L286.02,229.86 L286.36,228.3 L286.7,226.73 L287.03,225.17 L287.37,223.61 L287.71,222.04 L288.05,220.48 L288.38,218.92 L288.72,217.35 L289.06,215.79 L289.39,214.23 L289.73,215.79 L290.07,217.35 L290.41,218.92 L290.74,220.48 L291.08,222.04 L291.42,223.61 L291.76,225.17 L292.09,226.73 L292.43,228.3 L292.77,229.86 L293.11,231.42 L293.44,232.99 L293.78,234.55 L294.12,236.11 L294.45,237.68 L294.79,239.24 L295.13,240.8 L295.47,242.37 L295.8,243.93 L296.14,245.49 L296.48,247.03 L296.82,248.47 L297.15,249.82 L297.49,251.08 L297.83,252.24 L298.17,253.31 L298.5,254.28 L298.84,255.16 L299.18,255.94 L299.52,256.63 L299.85,257.23 L300.19,257.73 L300.53,258.13 L300.86,258.44 L301.2,258.66 L301.54,258.78 L301.88,258.81 L302.21,258.81 L302.55,258.81 L302.89,258.81 L302.89,257.23 L303.23,257.23 L303.56,257.2 L303.9,256.86 L304.24,256.16 L304.58,255.08 L304.91,253.63 L305.25,251.81 L305.59,249.62 L305.92,247.06 L306.26,244.13 L306.6,241.06 L306.94,237.98 L307.27,234.91 L307.61,231.84 L307.95,228.76 L308.29,225.69 L308.62,222.61 L308.96,219.54 L309.3,216.46 L309.64,213.39 L309.97,216.46 L310.31,219.54 L310.65,222.61 L310.99,225.69 L311.32,228.76 L311.66,231.84 L312,234.91 L312.33,237.98 L312.67,241.06 L313.01,244.13 L313.35,247.06 L313.68,249.62 L314.02,251.81 L314.36,253.63 L314.7,255.08 L315.03,256.16 L315.37,256.86 L315.71,257.2 L316.05,257.23 L316.38,257.23 L316.72,257.23 L317.06,257.2 L317.39,256.86 L317.73,256.16 L318.07,255.08 L318.41,253.63 L318.74,251.81 L319.08,249.62 L319.42,247.06 L319.76,244.13 L320.09,241.06 L320.43,237.98 L320.77,234.91 L321.11,231.84 L321.44,228.76 L321.78,225.69 L322.12,222.61 L322.45,219.54 L322.79,216.46 L323.13,213.39 L323.47,216.46 L323.8,219.54 L324.14,222.61 L324.48,225.69 L324.82,228.76 L325.15,231.84 L325.49,234.91 L325.83,237.98 L326.17,241.06 L326.5,244.13 L326.84,247.06 L327.18,249.62 L327.52,251.81 L327.85,253.63 L328.19,255.08 L328.53,256.16 L328.86,256.86 L329.2,257.2 L329.54,257.23 L329.88,257.23 L330.21,257.23 L330.55,257.2 L330.89,256.86 L331.23,256.16 L331.56,255.08 L331.9,253.63 L332.24,251.81 L332.58,249.62 L332.91,247.06 L333.25,244.13 L333.59,241.06 L333.92,237.98 L334.26,234.91 L334.6,231.84 L334.94,228.76 L335.27,225.69 L335.61,222.61 L335.95,219.54 L336.29,216.46 L336.62,213.39 L336.96,216.46 L337.3,219.54 L337.64,222.61 L337.97,225.69 L338.31,228.76 L338.65,231.84 L338.99,234.91 L339.32,237.98 L339.66,241.06 L340,244.13 L340.33,247.06 L340.67,249.62 L341.01,251.81 L341.35,253.63 L341.68,255.08 L342.02,256.16 L342.36,256.86 L342.7,257.2 L343.03,257.23 L343.37,257.23 L344.05,256.23 L344.33,256.23 L344.61,255.64 L344.89,253.97 L345.17,251.22 L345.45,247.39 L345.73,242.48 L346.01,237.1 L346.29,231.73 L346.58,226.35 L346.86,220.97 L347.14,215.59 L347.42,210.22 L347.7,215.59 L347.98,220.97 L348.26,226.35 L348.54,231.73 L348.82,237.1 L349.11,242.48 L349.39,247.39 L349.67,251.22 L349.95,253.97 L350.23,255.64 L350.51,256.23 L350.79,256.23 L351.07,256.23 L351.35,255.64 L351.64,253.97 L351.92,251.22 L352.2,247.39 L352.48,242.48 L352.76,237.1 L353.04,231.73 L353.32,226.35 L353.6,220.97 L353.88,215.59 L354.17,210.22 L354.45,215.59 L354.73,220.97 L355.01,226.35 L355.29,231.73 L355.57,237.1 L355.85,242.48 L356.13,247.39 L356.41,251.22 L356.7,253.97 L356.98,255.64 L357.26,256.23 L357.54,256.23 L357.82,256.23 L358.1,255.64 L358.38,253.97 L358.66,251.22 L358.95,247.39 L359.23,242.48 L359.51,237.1 L359.79,231.73 L360.07,226.35 L360.35,220.97 L360.63,215.59 L360.91,210.22 L361.19,215.59 L361.48,220.97 L361.76,226.35 L362.04,231.73 L362.32,237.1 L362.6,242.48 L362.88,247.39 L363.16,251.22 L363.44,253.97 L363.72,255.64 L364.01,256.23 L364.29,256.23 L364.61,255.41 L364.92,250.71 L365.23,241.43 L365.53,230.04 L365.84,218.66 L366.15,207.29 L366.46,218.65 L366.77,229.99 L367.07,241.32 L367.38,250.51 L367.69,255.14 L368,255.72 L368.28,255.08 L368.57,250.38 L368.85,241.09 L369.13,229.68 L369.42,218.27 L369.7,206.88 L369.98,218.26 L370.27,229.64 L370.55,241 L370.83,250.23 L371.12,254.88 L371.4,255.47 L371.68,254.84 L371.97,250.15 L372.25,240.91 L372.53,229.56 L372.82,218.21 L373.1,206.88 L373.38,218.2 L373.67,229.52 L373.95,240.82 L374.23,250.01 L374.52,254.63 L374.8,255.22 L375.02,254.58 L375.23,249.87 L375.45,240.6 L375.67,229.21 L375.88,217.83 L376.1,206.46 L376.32,217.81 L376.53,229.15 L376.75,240.48 L376.97,249.67 L377.18,254.3 L377.4,254.89 L377.62,254.25 L377.83,249.56 L378.05,240.27 L378.27,228.85 L378.48,217.44 L378.7,206.04 L378.92,217.44 L379.13,228.83 L379.35,240.21 L379.57,249.46 L379.78,254.12 L380,254.72 L380.22,254.09 L380.43,249.41 L380.65,240.15 L380.87,228.78 L381.08,217.41 L381.3,206.04 L381.52,217.4 L381.73,228.75 L381.95,240.09 L382.17,249.31 L382.38,253.95 L382.6,254.56 L382.82,253.93 L383.03,249.3 L383.25,240.16 L383.47,228.92 L383.68,217.69 L383.9,206.46 L384.12,217.68 L384.33,228.89 L384.55,240.1 L384.77,249.2 L384.98,253.79 L385.2,254.39 L385.37,253.78 L385.53,249.24 L385.7,240.29 L385.87,229.29 L386.03,218.29 L386.2,207.29 L386.37,218.28 L386.53,229.26 L386.7,240.23 L386.87,249.15 L387.03,253.64 L387.2,254.22 L387.7,254.14 L389,254.56 L390.4,255.31" fill="none" stroke="#bd2a2a" stroke-width="0.95" stroke-linejoin="round"/>
<rect x="459" y="18.25" width="216.4" height="60.05" fill="none" stroke="#3c3c3c" stroke-width="1"/>
<line x1="456" y1="28.2" x2="459" y2="28.2" stroke="#3c3c3c" stroke-width="1" />
<line x1="456" y1="49" x2="459" y2="49" stroke="#3c3c3c" stroke-width="1" />
<line x1="456" y1="69.8" x2="459" y2="69.8" stroke="#3c3c3c" stroke-width="1" />
<line x1="457" y1="38.6" x2="459" y2="38.6" stroke="#3c3c3c" stroke-width="1" />
<line x1="457" y1="59.4" x2="459" y2="59.4" stroke="#3c3c3c" stroke-width="1" />
<line x1="483.6" y1="78.3" x2="483.6" y2="81.3" stroke="#3c3c3c" stroke-width="1" />
<line x1="517.2" y1="78.3" x2="517.2" y2="81.3" stroke="#3c3c3c" stroke-width="1" />
<line x1="550.8" y1="78.3" x2="550.8" y2="81.3" stroke="#3c3c3c" stroke-width="1" />
<line x1="584.4" y1="78.3" x2="584.4" y2="81.3" stroke="#3c3c3c" stroke-width="1" />
<line x1="618" y1="78.3" x2="618" y2="81.3" stroke="#3c3c3c" stroke-width="1" />
<line x1="651.6" y1="78.3" x2="651.6" y2="81.3" stroke="#3c3c3c" stroke-width="1" />
<line x1="466.8" y1="78.3" x2="466.8" y2="80.3" stroke="#3c3c3c" stroke-width="1" />
<line x1="500.4" y1="78.3" x2="500.4" y2="80.3" stroke="#3c3c3c" stroke-width="1" />
<line x1="534" y1="78.3" x2="534" y2="80.3" stroke="#3c3c3c" stroke-width="1" />
<line x1="567.6" y1="78.3" x2="567.6" y2="80.3" stroke="#3c3c3c" stroke-width="1" />
<line x1="601.2" y1="78.3" x2="601.2" y2="80.3" stroke="#3c3c3c" stroke-width="1" />
<line x1="634.8" y1="78.3" x2="634.8" y2="80.3" stroke="#3c3c3c" stroke-width="1" />
<line x1="668.4" y1="78.3" x2="668.4" y2="80.3" stroke="#3c3c3c" stroke-width="1" />
<text x="452.6" y="31.3" font-size="9.3" text-anchor="end" fill="#0c0c0c" stroke="#0c0c0c" stroke-width="0.2" >0.2</text>
<text x="452.6" y="52.1" font-size="9.3" text-anchor="end" fill="#0c0c0c" stroke="#0c0c0c" stroke-width="0.2" >0.0</text>
<text x="452.6" y="72.9" font-size="9.3" text-anchor="end" fill="#0c0c0c" stroke="#0c0c0c" stroke-width="0.2" >−0.2</text>
<text x="483.6" y="92" font-size="9.3" text-anchor="middle" fill="#0c0c0c" stroke="#0c0c0c" stroke-width="0.2" >0</text>
<text x="517.2" y="92" font-size="9.3" text-anchor="middle" fill="#0c0c0c" stroke="#0c0c0c" stroke-width="0.2" >5</text>
<text x="550.8" y="92" font-size="9.3" text-anchor="middle" fill="#0c0c0c" stroke="#0c0c0c" stroke-width="0.2" >10</text>
<text x="584.4" y="92" font-size="9.3" text-anchor="middle" fill="#0c0c0c" stroke="#0c0c0c" stroke-width="0.2" >15</text>
<text x="618" y="92" font-size="9.3" text-anchor="middle" fill="#0c0c0c" stroke="#0c0c0c" stroke-width="0.2" >20</text>
<text x="651.6" y="92" font-size="9.3" text-anchor="middle" fill="#0c0c0c" stroke="#0c0c0c" stroke-width="0.2" >25</text>
<text x="565.3" y="102.5" font-size="9.3" text-anchor="middle" fill="#0c0c0c" stroke="#0c0c0c" stroke-width="0.2" >Cycles</text>
<text transform="translate(434.6,47) rotate(-90)" font-size="9.5" font-style="italic" text-anchor="middle" fill="#0c0c0c" stroke="#0c0c0c" stroke-width="0.1">ΔR/R<tspan font-size="6.46" dy="1.6">0</tspan></text>
<defs><clipPath id="ctop"><rect x="459" y="18.25" width="216.39999999999998" height="60.05"/></clipPath></defs>
<path clip-path="url(#ctop)" d="M471.84,49 L482.93,49 L486.42,23.32 L486.91,31.2 L487.4,38.43 L487.88,44.97 L488.37,50.77 L488.86,55.76 L489.35,59.83 L489.83,62.82 L490.32,64.29 L490.72,60.72 L493.14,28.57 L493.63,35.76 L494.12,42.36 L494.6,48.33 L495.09,53.62 L495.58,58.17 L496.07,61.88 L496.55,64.61 L497.04,65.95 L497.44,62.49 L499.86,31.35 L500.35,38.21 L500.84,44.5 L501.32,50.19 L501.81,55.23 L502.3,59.57 L502.79,63.11 L503.27,65.71 L503.76,66.99 L504.16,63.58 L506.58,32.9 L507.07,39.66 L507.56,45.86 L508.04,51.47 L508.53,56.44 L509.02,60.72 L509.51,64.21 L509.99,66.77 L510.48,68.03 L510.88,64.63 L513.3,34.04 L513.79,40.72 L514.28,46.85 L514.76,52.39 L515.25,57.31 L515.74,61.53 L516.23,64.98 L516.71,67.51 L517.2,68.76 L517.6,65.38 L520.02,34.97 L520.51,41.57 L521,47.63 L521.48,53.11 L521.97,57.96 L522.46,62.14 L522.95,65.55 L523.43,68.05 L523.92,69.28 L524.32,65.9 L526.74,35.49 L527.23,42.04 L527.72,48.05 L528.2,53.49 L528.69,58.31 L529.18,62.45 L529.67,65.83 L530.15,68.32 L530.64,69.54 L531.04,66.19 L533.46,36.07 L533.95,42.56 L534.44,48.51 L534.92,53.9 L535.41,58.67 L535.9,62.78 L536.39,66.13 L536.87,68.59 L537.36,69.8 L537.76,66.48 L540.18,36.65 L540.67,43.07 L541.16,48.97 L541.64,54.31 L542.13,59.04 L542.62,63.1 L543.11,66.42 L543.59,68.86 L544.08,70.06 L544.48,66.78 L546.9,37.22 L547.39,43.59 L547.88,49.43 L548.36,54.72 L548.85,59.4 L549.34,63.43 L549.83,66.72 L550.31,69.13 L550.8,70.32 L551.2,67.06 L553.62,37.67 L554.11,43.97 L554.6,49.76 L555.08,54.98 L555.57,59.62 L556.06,63.61 L556.55,66.86 L557.03,69.25 L557.52,70.42 L557.92,67.18 L560.34,37.94 L560.83,44.21 L561.32,49.96 L561.8,55.17 L562.29,59.78 L562.78,63.74 L563.27,66.98 L563.75,69.36 L564.24,70.53 L564.64,67.3 L567.06,38.21 L567.55,44.45 L568.04,50.17 L568.52,55.35 L569.01,59.94 L569.5,63.88 L569.99,67.1 L570.47,69.47 L570.96,70.63 L571.36,67.42 L573.78,38.48 L574.27,44.69 L574.76,50.38 L575.24,55.53 L575.73,60.1 L576.22,64.02 L576.71,67.23 L577.19,69.58 L577.68,70.74 L578.08,67.54 L580.5,38.76 L580.99,44.93 L581.48,50.59 L581.96,55.71 L582.45,60.26 L582.94,64.16 L583.43,67.35 L583.91,69.69 L584.4,70.84 L584.8,67.65 L587.22,38.97 L587.71,45.12 L588.2,50.75 L588.68,55.85 L589.17,60.37 L589.66,64.26 L590.15,67.43 L590.63,69.76 L591.12,70.9 L591.52,67.72 L593.94,39.12 L594.43,45.24 L594.92,50.87 L595.4,55.95 L595.89,60.46 L596.38,64.33 L596.87,67.5 L597.35,69.82 L597.84,70.96 L598.24,67.79 L600.66,39.26 L601.15,45.37 L601.64,50.98 L602.12,56.05 L602.61,60.55 L603.1,64.41 L603.59,67.57 L604.07,69.89 L604.56,71.03 L604.96,67.87 L607.38,39.41 L607.87,45.5 L608.36,51.1 L608.84,56.16 L609.33,60.64 L609.82,64.49 L610.31,67.64 L610.79,69.95 L611.28,71.09 L611.68,67.94 L614.1,39.56 L614.59,45.63 L615.08,51.21 L615.56,56.26 L616.05,60.73 L616.54,64.57 L617.03,67.71 L617.51,70.02 L618,71.15 L618.4,68 L620.82,39.66 L621.31,45.73 L621.8,51.29 L622.28,56.32 L622.77,60.79 L623.26,64.62 L623.75,67.75 L624.23,70.05 L624.72,71.18 L625.12,68.04 L627.54,39.72 L628.03,45.78 L628.52,51.34 L629,56.37 L629.49,60.82 L629.98,64.66 L630.47,67.79 L630.95,70.08 L631.44,71.21 L631.84,68.07 L634.26,39.78 L634.75,45.84 L635.24,51.39 L635.72,56.41 L636.21,60.86 L636.7,64.69 L637.19,67.82 L637.67,70.11 L638.16,71.24 L638.56,68.1 L640.98,39.84 L641.47,45.89 L641.96,51.44 L642.44,56.46 L642.93,60.9 L643.42,64.73 L643.91,67.85 L644.39,70.14 L644.88,71.27 L645.28,68.13 L647.7,39.9 L648.19,45.94 L648.68,51.49 L649.16,56.5 L649.65,60.94 L650.14,64.76 L650.63,67.88 L651.11,70.17 L651.6,71.3 L652,68.17 L654.42,39.96 L654.91,46 L655.4,51.53 L655.88,56.54 L656.37,60.98 L656.86,64.8 L657.35,67.92 L657.83,70.2 L658.32,71.33 L658.72,68.2 L661.14,40.02 L661.63,46.05 L662.12,51.58 L662.6,56.59 L663.09,61.02 L663.58,64.84 L664.07,67.95 L664.55,70.24 L665.04,71.36 L665.44,68.23 L667.86,40.06 L668.35,46.08 L668.84,51.6 L669.32,56.6 L669.81,61.03 L670.3,64.84 L670.79,67.95 L671.27,70.24 L671.76,71.36 L672.16,68.23 L674.58,40.06 L675.07,46.08 L675.56,51.6 L676.04,56.6 L676.53,61.03 L677.02,64.84 L677.51,67.95 L677.99,70.24 L678.48,71.36 L678.88,68.23" fill="none" stroke="#6038b0" stroke-width="0.95" stroke-linejoin="round"/>
<rect x="460" y="109.5" width="216.4" height="60.2" fill="none" stroke="#3c3c3c" stroke-width="1"/>
<line x1="457" y1="119.6" x2="460" y2="119.6" stroke="#3c3c3c" stroke-width="1" />
<line x1="457" y1="139.6" x2="460" y2="139.6" stroke="#3c3c3c" stroke-width="1" />
<line x1="457" y1="159.6" x2="460" y2="159.6" stroke="#3c3c3c" stroke-width="1" />
<line x1="458" y1="129.6" x2="460" y2="129.6" stroke="#3c3c3c" stroke-width="1" />
<line x1="458" y1="149.6" x2="460" y2="149.6" stroke="#3c3c3c" stroke-width="1" />
<line x1="470.2" y1="169.7" x2="470.2" y2="172.7" stroke="#3c3c3c" stroke-width="1" />
<line x1="511.44" y1="169.7" x2="511.44" y2="172.7" stroke="#3c3c3c" stroke-width="1" />
<line x1="552.68" y1="169.7" x2="552.68" y2="172.7" stroke="#3c3c3c" stroke-width="1" />
<line x1="593.92" y1="169.7" x2="593.92" y2="172.7" stroke="#3c3c3c" stroke-width="1" />
<line x1="635.16" y1="169.7" x2="635.16" y2="172.7" stroke="#3c3c3c" stroke-width="1" />
<line x1="676.4" y1="169.7" x2="676.4" y2="172.7" stroke="#3c3c3c" stroke-width="1" />
<line x1="490.82" y1="169.7" x2="490.82" y2="171.7" stroke="#3c3c3c" stroke-width="1" />
<line x1="532.06" y1="169.7" x2="532.06" y2="171.7" stroke="#3c3c3c" stroke-width="1" />
<line x1="573.3" y1="169.7" x2="573.3" y2="171.7" stroke="#3c3c3c" stroke-width="1" />
<line x1="614.54" y1="169.7" x2="614.54" y2="171.7" stroke="#3c3c3c" stroke-width="1" />
<line x1="655.78" y1="169.7" x2="655.78" y2="171.7" stroke="#3c3c3c" stroke-width="1" />
<text x="453.6" y="122.7" font-size="9.3" text-anchor="end" fill="#0c0c0c" stroke="#0c0c0c" stroke-width="0.2" >0.2</text>
<text x="453.6" y="142.7" font-size="9.3" text-anchor="end" fill="#0c0c0c" stroke="#0c0c0c" stroke-width="0.2" >0.0</text>
<text x="453.6" y="162.7" font-size="9.3" text-anchor="end" fill="#0c0c0c" stroke="#0c0c0c" stroke-width="0.2" >−0.2</text>
<text x="470.2" y="183" font-size="9.3" text-anchor="middle" fill="#0c0c0c" stroke="#0c0c0c" stroke-width="0.2" >0</text>
<text x="511.44" y="183" font-size="9.3" text-anchor="middle" fill="#0c0c0c" stroke="#0c0c0c" stroke-width="0.2" >100</text>
<text x="552.68" y="183" font-size="9.3" text-anchor="middle" fill="#0c0c0c" stroke="#0c0c0c" stroke-width="0.2" >200</text>
<text x="593.92" y="183" font-size="9.3" text-anchor="middle" fill="#0c0c0c" stroke="#0c0c0c" stroke-width="0.2" >300</text>
<text x="635.16" y="183" font-size="9.3" text-anchor="middle" fill="#0c0c0c" stroke="#0c0c0c" stroke-width="0.2" >400</text>
<text x="676.4" y="183" font-size="9.3" text-anchor="middle" fill="#0c0c0c" stroke="#0c0c0c" stroke-width="0.2" >500</text>
<text x="567.7" y="193.2" font-size="9.3" text-anchor="middle" fill="#0c0c0c" stroke="#0c0c0c" stroke-width="0.2" >Cycles</text>
<text transform="translate(435.6,134.7) rotate(-90)" font-size="9.5" font-style="italic" text-anchor="middle" fill="#0c0c0c" stroke="#0c0c0c" stroke-width="0.1">ΔR/R<tspan font-size="6.46" dy="1.6">0</tspan></text>
<line x1="528.5" y1="119.6" x2="548.5" y2="119.6" stroke="#8a8a8a" stroke-width="1.25" />
<text x="551.2" y="123.1" font-size="9" text-anchor="start" fill="#0c0c0c" stroke="#0c0c0c" stroke-width="0.2" >Strain 50 %</text>
<path d="M470,140 L470.2,114.4 L471,119 L471.7,124 L472,124.09 L472.7,125.32 L473.4,127.06 L474.1,127.98 L474.8,128.11 L475.5,128.58 L476.2,129.75 L476.9,130.15 L477.6,130.56 L478.3,130.46 L479,131.07 L479.7,130.93 L480.4,131 L481.1,131.58 L481.8,131.35 L482.5,131.51 L483.2,132.11 L483.9,131.71 L484.6,132.07 L485.3,132.01 L486,132.22 L486.7,131.93 L487.4,132.24 L488.1,132.58 L488.8,132.32 L489.5,132.19 L490.2,132.71 L490.9,132.87 L491.6,132.8 L492.3,132.37 L493,132.36 L493.7,132.66 L494.4,132.48 L495.1,132.56 L495.8,133 L496.5,133.29 L497.2,132.81 L497.9,132.92 L498.6,133.12 L499.3,133.27 L500,133.13 L500.7,133.1 L501.4,133.31 L502.1,133.32 L502.8,133.19 L503.5,132.86 L504.2,133.13 L504.9,133.43 L505.6,133.46 L506.3,133.33 L507,133.58 L507.7,133.61 L508.4,133.35 L509.1,133.76 L509.8,133.43 L510.5,133.57 L511.2,133.28 L511.9,133.28 L512.6,133.35 L513.3,133.38 L514,133.67 L514.7,133.42 L515.4,133.73 L516.1,133.53 L516.8,133.76 L517.5,133.67 L518.2,134.02 L518.9,133.87 L519.6,133.22 L520.3,133.9 L521,133.5 L521.7,133.55 L522.4,133.49 L523.1,133.73 L523.8,133.63 L524.5,134.12 L525.2,134.12 L525.9,134.02 L526.6,134.07 L527.3,134.13 L528,134.11 L528.7,133.74 L529.4,134.08 L530.1,133.41 L530.8,133.66 L531.5,133.8 L532.2,133.66 L532.9,134.07 L533.6,133.48 L534.3,133.57 L535,133.69 L535.7,133.92 L536.4,133.6 L537.1,133.7 L537.8,133.79 L538.5,133.57 L539.2,133.84 L539.9,134.09 L540.6,133.93 L541.3,134.26 L542,134.28 L542.7,133.81 L543.4,133.76 L544.1,133.61 L544.8,133.73 L545.5,134.02 L546.2,134.43 L546.9,134.09 L547.6,133.7 L548.3,133.84 L549,134.12 L549.7,134.16 L550.4,134.38 L551.1,134.43 L551.8,134.54 L552.5,133.81 L553.2,134.05 L553.9,134.51 L554.6,134.27 L555.3,134.61 L556,134.48 L556.7,134.02 L557.4,134.1 L558.1,134.27 L558.8,134.46 L559.5,134.12 L560.2,133.85 L560.9,134.32 L561.6,134.65 L562.3,134.66 L563,134.64 L563.7,133.85 L564.4,134.23 L565.1,133.97 L565.8,134.57 L566.5,134.49 L567.2,134.11 L567.9,133.93 L568.6,134.43 L569.3,134.68 L570,133.96 L570.7,134.48 L571.4,134.08 L572.1,134.6 L572.8,134.12 L573.5,133.99 L574.2,134.1 L574.9,134.43 L575.6,134.1 L576.3,134.63 L577,134.48 L577.7,134.39 L578.4,133.98 L579.1,134.63 L579.8,133.98 L580.5,134.05 L581.2,133.9 L581.9,134.45 L582.6,134.59 L583.3,134.57 L584,134.04 L584.7,133.92 L585.4,134.16 L586.1,134.36 L586.8,134.53 L587.5,134.04 L588.2,134.01 L588.9,134.72 L589.6,134.61 L590.3,134.06 L591,134.04 L591.7,134.53 L592.4,134.56 L593.1,134.43 L593.8,134.33 L594.5,134.73 L595.2,134.07 L595.9,134.34 L596.6,134.13 L597.3,134.62 L598,133.96 L598.7,134.16 L599.4,134.52 L600.1,133.98 L600.8,134.21 L601.5,134.08 L602.2,134.8 L602.9,134.79 L603.6,134.18 L604.3,134.58 L605,134.39 L605.7,134.71 L606.4,133.98 L607.1,134.41 L607.8,134.11 L608.5,134.8 L609.2,134.43 L609.9,134.81 L610.6,134.07 L611.3,134.47 L612,134.81 L612.7,134.81 L613.4,134.39 L614.1,134.81 L614.8,134.72 L615.5,134.49 L616.2,134.44 L616.9,134.37 L617.6,134.33 L618.3,134.56 L619,134.34 L619.7,134.76 L620.4,134.65 L621.1,134.19 L621.8,134.77 L622.5,134.71 L623.2,134.7 L623.9,134.49 L624.6,134.92 L625.3,134.9 L626,134.52 L626.7,134.79 L627.4,134.33 L628.1,134.23 L628.8,134.43 L629.5,134.33 L630.2,134.6 L630.9,134.92 L631.6,134.57 L632.3,134.63 L633,134.43 L633.7,134.85 L634.4,134.77 L635.1,134.25 L635.8,134.75 L636.5,134.62 L637.2,134.15 L637.9,134.75 L638.6,134.87 L639.3,134.37 L640,134.5 L640.7,134.46 L641.4,134.98 L642.1,134.64 L642.8,135.02 L643.5,134.8 L644.2,134.39 L644.9,134.98 L645.6,134.77 L646.3,134.15 L647,134.17 L647.7,134.62 L648.4,134.39 L649.1,134.49 L649.8,134.64 L650.5,134.29 L651.2,134.91 L651.9,134.33 L652.6,135.04 L653.3,134.3 L654,134.47 L654.7,134.69 L655.4,134.49 L656.1,134.68 L656.8,134.4 L657.5,135 L658.2,134.65 L658.9,134.32 L659.6,134.28 L660.3,134.92 L661,134.89 L661.7,134.31 L662.4,134.82 L663.1,135.08 L663.8,134.49 L664.5,134.77 L665.2,134.48 L665.9,134.72 L666.6,134.7 L667.3,134.78 L668,134.9 L668.7,134.35 L669.4,134.56 L670.1,134.46 L670.8,134.37 L671.5,134.95 L672.2,134.35 L672.9,134.41 L673.6,134.73 L674.3,134.68 L675,135.09 L675.7,134.51 L675.8,135.2 L675.8,161.5 L675.7,162.09 L675,161.5 L674.3,161.74 L673.6,161.62 L672.9,161.86 L672.2,162.22 L671.5,162.29 L670.8,162.04 L670.1,162.22 L669.4,161.57 L668.7,162.24 L668,161.63 L667.3,161.92 L666.6,162.26 L665.9,161.72 L665.2,162.29 L664.5,161.74 L663.8,162.07 L663.1,162.11 L662.4,162.01 L661.7,161.58 L661,162.38 L660.3,162.14 L659.6,161.92 L658.9,162.1 L658.2,162.13 L657.5,161.72 L656.8,161.9 L656.1,161.51 L655.4,162.23 L654.7,161.84 L654,162.38 L653.3,161.61 L652.6,162.38 L651.9,161.7 L651.2,162.36 L650.5,161.63 L649.8,161.94 L649.1,162.11 L648.4,162.14 L647.7,162.15 L647,161.89 L646.3,161.76 L645.6,162.19 L644.9,162.39 L644.2,162.17 L643.5,162.38 L642.8,162.32 L642.1,161.85 L641.4,161.75 L640.7,161.77 L640,161.93 L639.3,162.26 L638.6,161.94 L637.9,161.52 L637.2,162 L636.5,161.63 L635.8,162.21 L635.1,162.09 L634.4,162.19 L633.7,162.12 L633,162.18 L632.3,161.76 L631.6,161.61 L630.9,161.64 L630.2,161.56 L629.5,161.72 L628.8,161.66 L628.1,162.13 L627.4,161.98 L626.7,161.64 L626,162.31 L625.3,162.11 L624.6,161.52 L623.9,162.29 L623.2,161.55 L622.5,162.05 L621.8,162.31 L621.1,162.15 L620.4,161.81 L619.7,161.99 L619,162.33 L618.3,161.97 L617.6,161.58 L616.9,162.23 L616.2,161.54 L615.5,162.05 L614.8,161.95 L614.1,161.93 L613.4,162.23 L612.7,161.82 L612,161.87 L611.3,162.24 L610.6,162.18 L609.9,161.8 L609.2,161.43 L608.5,161.56 L607.8,161.61 L607.1,161.55 L606.4,162.14 L605.7,161.67 L605,161.69 L604.3,161.64 L603.6,161.83 L602.9,161.48 L602.2,161.89 L601.5,161.66 L600.8,161.64 L600.1,161.85 L599.4,162.09 L598.7,162.09 L598,161.51 L597.3,161.88 L596.6,161.65 L595.9,162.09 L595.2,161.74 L594.5,162 L593.8,161.68 L593.1,161.36 L592.4,162 L591.7,161.98 L591,161.42 L590.3,162.03 L589.6,161.41 L588.9,161.35 L588.2,161.6 L587.5,161.98 L586.8,161.3 L586.1,161.68 L585.4,161.93 L584.7,161.31 L584,161.88 L583.3,161.55 L582.6,161.58 L581.9,161.85 L581.2,162.03 L580.5,161.91 L579.8,161.19 L579.1,161.67 L578.4,161.97 L577.7,162.03 L577,161.78 L576.3,161.28 L575.6,161.7 L574.9,162.02 L574.2,161.48 L573.5,161.58 L572.8,161.52 L572.1,161.67 L571.4,161.43 L570.7,161.97 L570,161.86 L569.3,161.64 L568.6,161.71 L567.9,161.24 L567.2,161.13 L566.5,161.52 L565.8,161.38 L565.1,161.72 L564.4,161.08 L563.7,161.19 L563,161.9 L562.3,161.63 L561.6,161.16 L560.9,161.29 L560.2,161.09 L559.5,161.42 L558.8,161.31 L558.1,161.48 L557.4,161.62 L556.7,161.57 L556,161.28 L555.3,161.51 L554.6,161.85 L553.9,161.91 L553.2,161.69 L552.5,161.35 L551.8,161.81 L551.1,161.44 L550.4,161.42 L549.7,161.69 L549,161.71 L548.3,161.65 L547.6,161.52 L546.9,161.5 L546.2,161.24 L545.5,161.54 L544.8,161.32 L544.1,161.5 L543.4,161.39 L542.7,161.15 L542,161.51 L541.3,161.72 L540.6,161.9 L539.9,161.45 L539.2,161.73 L538.5,161.48 L537.8,161.97 L537.1,161.44 L536.4,161.36 L535.7,161.9 L535,161.12 L534.3,161.92 L533.6,161.25 L532.9,161.46 L532.2,161.8 L531.5,161.38 L530.8,161.39 L530.1,161.75 L529.4,161.69 L528.7,161.68 L528,161.29 L527.3,161.73 L526.6,161.16 L525.9,161.5 L525.2,161.46 L524.5,161.45 L523.8,161.34 L523.1,161.72 L522.4,161.54 L521.7,161.99 L521,161.34 L520.3,161.69 L519.6,161.91 L518.9,162.08 L518.2,161.53 L517.5,161.19 L516.8,161.61 L516.1,161.67 L515.4,161.68 L514.7,161.85 L514,161.37 L513.3,161.31 L512.6,161.24 L511.9,161.33 L511.2,162.06 L510.5,162.1 L509.8,161.6 L509.1,161.72 L508.4,161.27 L507.7,161.75 L507,161.54 L506.3,162.08 L505.6,161.73 L504.9,161.9 L504.2,161.76 L503.5,161.92 L502.8,161.29 L502.1,161.92 L501.4,161.53 L500.7,161.3 L500,162.16 L499.3,161.75 L498.6,161.4 L497.9,161.97 L497.2,162.12 L496.5,161.52 L495.8,161.84 L495.1,161.78 L494.4,161.96 L493.7,161.65 L493,162.1 L492.3,161.74 L491.6,162.03 L490.9,161.79 L490.2,161.72 L489.5,161.44 L488.8,161.41 L488.1,161.21 L487.4,161.32 L486.7,161.27 L486,161.55 L485.3,161.22 L484.6,161.75 L483.9,161.59 L483.2,161.5 L482.5,161.86 L481.8,161.56 L481.1,161.53 L480.4,161.61 L479.7,161.53 L479,161.56 L478.3,161.05 L477.6,161.85 L476.9,161.66 L476.2,161.54 L475.5,161.35 L474.8,161.35 L474.1,160.5 L473.4,160.19 L472.7,160.2 L472,159.51 L475,160.9 L471.7,159.2 L470.7,153.8 L470.2,145 L470,140 Z" fill="#000"/>
<rect x="468.2" y="111.3" width="16.6" height="54.9" fill="none" stroke="#7a3fd0" stroke-width="0.9" stroke-dasharray="1.8 1.3"/>
<rect x="630.5" y="111.5" width="24.8" height="55.3" fill="none" stroke="#4a90d0" stroke-width="0.85" stroke-dasharray="1.8 1.3"/>
<line x1="459" y1="78.3" x2="468" y2="111" stroke="#7a3fd0" stroke-width="0.9" stroke-dasharray="1.8 1.3"/>
<line x1="484.8" y1="111" x2="676" y2="78.3" stroke="#7a3fd0" stroke-width="0.9" stroke-dasharray="1.8 1.3"/>
<line x1="630" y1="166.7" x2="459.5" y2="202.7" stroke="#4a90d0" stroke-width="0.85" stroke-dasharray="1.8 1.3"/>
<line x1="655.7" y1="166.7" x2="676" y2="202.7" stroke="#4a90d0" stroke-width="0.85" stroke-dasharray="1.8 1.3"/>
<rect x="459.4" y="202.9" width="216.1" height="59.8" fill="none" stroke="#3c3c3c" stroke-width="1"/>
<line x1="456.5" y1="210.3" x2="459.5" y2="210.3" stroke="#3c3c3c" stroke-width="1" />
<line x1="456.5" y1="233" x2="459.5" y2="233" stroke="#3c3c3c" stroke-width="1" />
<line x1="456.5" y1="255.7" x2="459.5" y2="255.7" stroke="#3c3c3c" stroke-width="1" />
<line x1="457.5" y1="221.65" x2="459.5" y2="221.65" stroke="#3c3c3c" stroke-width="1" />
<line x1="457.5" y1="244.35" x2="459.5" y2="244.35" stroke="#3c3c3c" stroke-width="1" />
<line x1="469.7" y1="262.7" x2="469.7" y2="265.7" stroke="#3c3c3c" stroke-width="1" />
<line x1="516.7" y1="262.7" x2="516.7" y2="265.7" stroke="#3c3c3c" stroke-width="1" />
<line x1="563.7" y1="262.7" x2="563.7" y2="265.7" stroke="#3c3c3c" stroke-width="1" />
<line x1="610.7" y1="262.7" x2="610.7" y2="265.7" stroke="#3c3c3c" stroke-width="1" />
<line x1="657.7" y1="262.7" x2="657.7" y2="265.7" stroke="#3c3c3c" stroke-width="1" />
<line x1="493.2" y1="262.7" x2="493.2" y2="264.7" stroke="#3c3c3c" stroke-width="1" />
<line x1="540.2" y1="262.7" x2="540.2" y2="264.7" stroke="#3c3c3c" stroke-width="1" />
<line x1="587.2" y1="262.7" x2="587.2" y2="264.7" stroke="#3c3c3c" stroke-width="1" />
<line x1="634.2" y1="262.7" x2="634.2" y2="264.7" stroke="#3c3c3c" stroke-width="1" />
<text x="452.6" y="213.4" font-size="9.3" text-anchor="end" fill="#0c0c0c" stroke="#0c0c0c" stroke-width="0.2" >0.2</text>
<text x="452.6" y="236.1" font-size="9.3" text-anchor="end" fill="#0c0c0c" stroke="#0c0c0c" stroke-width="0.2" >0.0</text>
<text x="452.6" y="258.8" font-size="9.3" text-anchor="end" fill="#0c0c0c" stroke="#0c0c0c" stroke-width="0.2" >−0.2</text>
<text x="469.7" y="276.6" font-size="9.3" text-anchor="middle" fill="#0c0c0c" stroke="#0c0c0c" stroke-width="0.2" >400</text>
<text x="516.7" y="276.6" font-size="9.3" text-anchor="middle" fill="#0c0c0c" stroke="#0c0c0c" stroke-width="0.2" >410</text>
<text x="563.7" y="276.6" font-size="9.3" text-anchor="middle" fill="#0c0c0c" stroke="#0c0c0c" stroke-width="0.2" >420</text>
<text x="610.7" y="276.6" font-size="9.3" text-anchor="middle" fill="#0c0c0c" stroke="#0c0c0c" stroke-width="0.2" >430</text>
<text x="657.7" y="276.6" font-size="9.3" text-anchor="middle" fill="#0c0c0c" stroke="#0c0c0c" stroke-width="0.2" >440</text>
<text x="571.6" y="286" font-size="9.3" text-anchor="middle" fill="#0c0c0c" stroke="#0c0c0c" stroke-width="0.2" >Cycles</text>
<text transform="translate(436.3,232.5) rotate(-90)" font-size="9.5" font-style="italic" text-anchor="middle" fill="#0c0c0c" stroke="#0c0c0c" stroke-width="0.1">ΔR/R<tspan font-size="6.46" dy="1.6">0</tspan></text>
<defs><clipPath id="cbot"><rect x="459.5" y="202.9" width="215.59999999999997" height="59.79999999999998"/></clipPath></defs>
<path clip-path="url(#cbot)" d="M455.6,227 L456.2,235.5 L457.3,248.3 L457.9,253.8 L458.45,257.1 L458.75,255.2 L460.3,227 L460.9,235.5 L462,248.3 L462.6,253.8 L463.15,257.1 L463.45,255.2 L465,227 L465.6,235.5 L466.7,248.3 L467.3,253.8 L467.85,257.1 L468.15,255.2 L469.7,227 L470.3,235.5 L471.4,248.3 L472,253.8 L472.55,257.1 L472.85,255.2 L474.4,227 L475,235.5 L476.1,248.3 L476.7,253.8 L477.25,257.1 L477.55,255.2 L479.1,227 L479.7,235.5 L480.8,248.3 L481.4,253.8 L481.95,257.1 L482.25,255.2 L483.8,227 L484.4,235.5 L485.5,248.3 L486.1,253.8 L486.65,257.1 L486.95,255.2 L488.5,227 L489.1,235.5 L490.2,248.3 L490.8,253.8 L491.35,257.1 L491.65,255.2 L493.2,227 L493.8,235.5 L494.9,248.3 L495.5,253.8 L496.05,257.1 L496.35,255.2 L497.9,227 L498.5,235.5 L499.6,248.3 L500.2,253.8 L500.75,257.1 L501.05,255.2 L502.6,227 L503.2,235.5 L504.3,248.3 L504.9,253.8 L505.45,257.1 L505.75,255.2 L507.3,227 L507.9,235.5 L509,248.3 L509.6,253.8 L510.15,257.1 L510.45,255.2 L512,227 L512.6,235.5 L513.7,248.3 L514.3,253.8 L514.85,257.1 L515.15,255.2 L516.7,227 L517.3,235.5 L518.4,248.3 L519,253.8 L519.55,257.1 L519.85,255.2 L521.4,227 L522,235.5 L523.1,248.3 L523.7,253.8 L524.25,257.1 L524.55,255.2 L526.1,227 L526.7,235.5 L527.8,248.3 L528.4,253.8 L528.95,257.1 L529.25,255.2 L530.8,227 L531.4,235.5 L532.5,248.3 L533.1,253.8 L533.65,257.1 L533.95,255.2 L535.5,227 L536.1,235.5 L537.2,248.3 L537.8,253.8 L538.35,257.1 L538.65,255.2 L540.2,227 L540.8,235.5 L541.9,248.3 L542.5,253.8 L543.05,257.1 L543.35,255.2 L544.9,227 L545.5,235.5 L546.6,248.3 L547.2,253.8 L547.75,257.1 L548.05,255.2 L549.6,227 L550.2,235.5 L551.3,248.3 L551.9,253.8 L552.45,257.1 L552.75,255.2 L554.3,227 L554.9,235.5 L556,248.3 L556.6,253.8 L557.15,257.1 L557.45,255.2 L559,227 L559.6,235.5 L560.7,248.3 L561.3,253.8 L561.85,257.1 L562.15,255.2 L563.7,227 L564.3,235.5 L565.4,248.3 L566,253.8 L566.55,257.1 L566.85,255.2 L568.4,227 L569,235.5 L570.1,248.3 L570.7,253.8 L571.25,257.1 L571.55,255.2 L573.1,227 L573.7,235.5 L574.8,248.3 L575.4,253.8 L575.95,257.1 L576.25,255.2 L577.8,227 L578.4,235.5 L579.5,248.3 L580.1,253.8 L580.65,257.1 L580.95,255.2 L582.5,227 L583.1,235.5 L584.2,248.3 L584.8,253.8 L585.35,257.1 L585.65,255.2 L587.2,227 L587.8,235.5 L588.9,248.3 L589.5,253.8 L590.05,257.1 L590.35,255.2 L591.9,227 L592.5,235.5 L593.6,248.3 L594.2,253.8 L594.75,257.1 L595.05,255.2 L596.6,227 L597.2,235.5 L598.3,248.3 L598.9,253.8 L599.45,257.1 L599.75,255.2 L601.3,227 L601.9,235.5 L603,248.3 L603.6,253.8 L604.15,257.1 L604.45,255.2 L606,227 L606.6,235.5 L607.7,248.3 L608.3,253.8 L608.85,257.1 L609.15,255.2 L610.7,227 L611.3,235.5 L612.4,248.3 L613,253.8 L613.55,257.1 L613.85,255.2 L615.4,227 L616,235.5 L617.1,248.3 L617.7,253.8 L618.25,257.1 L618.55,255.2 L620.1,227 L620.7,235.5 L621.8,248.3 L622.4,253.8 L622.95,257.1 L623.25,255.2 L624.8,227 L625.4,235.5 L626.5,248.3 L627.1,253.8 L627.65,257.1 L627.95,255.2 L629.5,227 L630.1,235.5 L631.2,248.3 L631.8,253.8 L632.35,257.1 L632.65,255.2 L634.2,227 L634.8,235.5 L635.9,248.3 L636.5,253.8 L637.05,257.1 L637.35,255.2 L638.9,227 L639.5,235.5 L640.6,248.3 L641.2,253.8 L641.75,257.1 L642.05,255.2 L643.6,227 L644.2,235.5 L645.3,248.3 L645.9,253.8 L646.45,257.1 L646.75,255.2 L648.3,227 L648.9,235.5 L650,248.3 L650.6,253.8 L651.15,257.1 L651.45,255.2 L653,227 L653.6,235.5 L654.7,248.3 L655.3,253.8 L655.85,257.1 L656.15,255.2 L657.7,227 L658.3,235.5 L659.4,248.3 L660,253.8 L660.55,257.1 L660.85,255.2 L662.4,227 L663,235.5 L664.1,248.3 L664.7,253.8 L665.25,257.1 L665.55,255.2 L667.1,227 L667.7,235.5 L668.8,248.3 L669.4,253.8 L669.95,257.1 L670.25,255.2 L671.8,227 L672.4,235.5 L673.5,248.3 L674.1,253.8 L674.65,257.1 L674.95,255.2 L676.5,227 L677.1,235.5 L678.2,248.3 L678.8,253.8 L679.35,257.1 L679.65,255.2" fill="none" stroke="#5296d2" stroke-width="0.72" stroke-linejoin="round"/>
</svg>
</body></html>
